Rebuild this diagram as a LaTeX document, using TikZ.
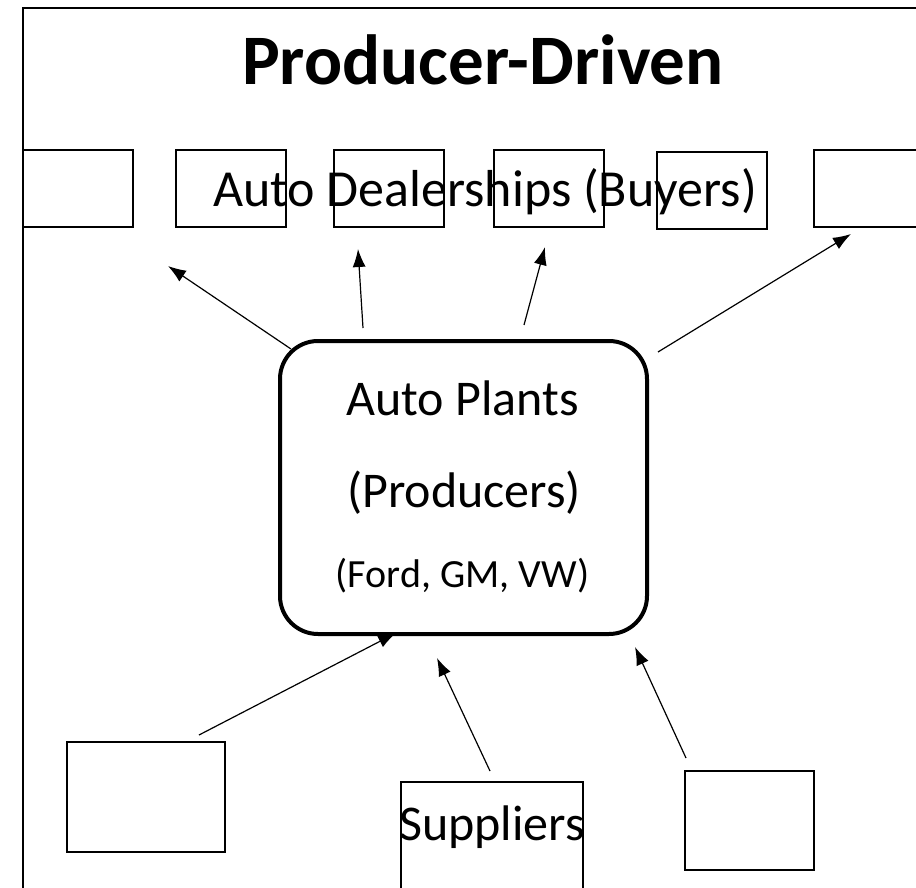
\documentclass[tikz,border=0pt]{standalone}
\usepackage{fontspec}
\setmainfont{Carlito}
\usetikzlibrary{arrows.meta}

\begin{document}
\begin{tikzpicture}[x=1pt,y=-1pt,
					box/.style={draw,line width=1.3pt,inner sep=0pt},
					buyer/.style={box,minimum width=110pt,minimum height=77pt},
					big text/.style={font=\fontsize{52}{56}\selectfont,inner sep=0pt,anchor=base},
					link/.style={-{Latex[length=18pt,width=13pt]},line width=1.2pt}]

  \useasboundingbox (0,0) rectangle (916,888);
  \draw[line width=1.5pt] (23,900) -- (23,8) -- (930,8);

  \node[big text,font=\fontsize{71}{75}\selectfont\bfseries] (title) at (483,85) {Producer-Driven};

  % buyers
  \foreach \x/\y [count=\i] in {78/188.5,231/188.5,389/188.5,549/188.5,712/190.5,869/188.5}
    \node[buyer] (d\i) at (\x,\y) {};
  \node[big text] (dealers) at (485,207) {Auto Dealerships (Buyers)};

  % producers
  \node[draw,line width=4pt,rounded corners=38pt,
        minimum width=367pt,minimum height=293pt] (plant) at (463.5,487.5) {};
  \node[big text,font=\fontsize{50}{54}\selectfont] (plant1) at (462.5,415) {Auto Plants};
  \node[big text,font=\fontsize{50}{54}\selectfont] (plant2) at (464,507) {(Producers)};
  \node[big text,font=\fontsize{40}{44}\selectfont] (plant3) at (462.5,587) {(Ford, GM, VW)};

  % suppliers
  \node[box,minimum width=158pt,minimum height=110pt] (s1) at (146,797) {};
  \node[box,minimum width=182pt,minimum height=116pt] (s2) at (492,840) {};
  \node[box,minimum width=129pt,minimum height=99pt] (s3) at (749.5,820.5) {};
  \node[big text,font=\fontsize{50}{54}\selectfont] (supp) at (492,840) {Suppliers};

  \coordinate (o1) at (291,349);  \coordinate (e1) at (168,266);
  \coordinate (o2) at (363,328);  \coordinate (e2) at (358,249);
  \coordinate (o3) at (524,325);  \coordinate (e3) at (545,247);
  \coordinate (o4) at (658,352);  \coordinate (e4) at (851,234);
  \coordinate (i1) at (199,735);  \coordinate (f1) at (396,633);
  \coordinate (i2) at (490,771);  \coordinate (f2) at (437,658);
  \coordinate (i3) at (686,758);  \coordinate (f3) at (635,647);

  \foreach \a/\b in {o1/e1,o2/e2,o3/e3,o4/e4,i1/f1,i2/f2,i3/f3}
    \draw[link] (\a) -- (\b);
\end{tikzpicture}
\end{document}
